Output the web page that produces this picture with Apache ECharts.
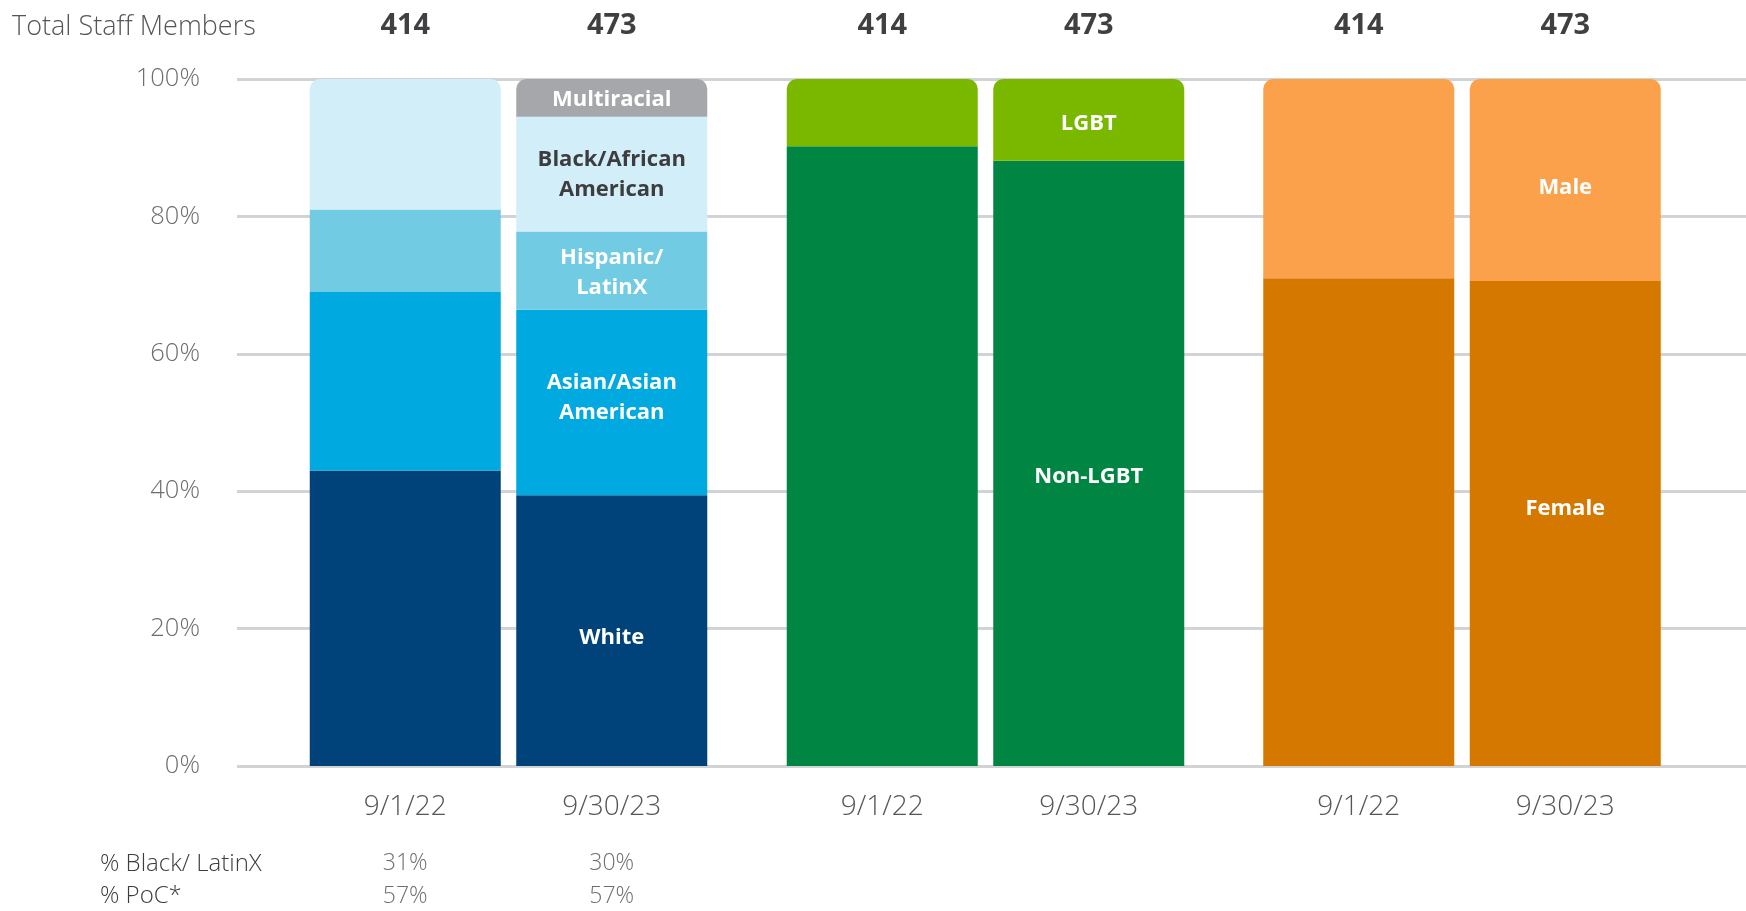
<!DOCTYPE html>
<html><head><meta charset="utf-8">
<script src="https://cdn.jsdelivr.net/npm/echarts@6/dist/echarts.min.js"></script>
<style>html,body{margin:0;padding:0;background:#fff}#c{width:1746px;height:911px}</style>
</head><body><div id="c"></div>
<script>
// ---- data ----
const dates = ['9/1/22', '9/30/23'];
const totals = ['414', '473'];
const pctBlackLatinX = ['31%', '30%'];
const pctPoC = ['57%', '57%'];

const raceNames = ['White', 'Asian/Asian American', 'Hispanic/LatinX', 'Black/African American', 'Multiracial'];
const raceLabels = ['White', 'Asian/Asian\nAmerican', 'Hispanic/\nLatinX', 'Black/African\nAmerican', 'Multiracial'];
const white = [43.0, 39.4];
const asian = [26.0, 27.0];
const hispanic = [12.0, 11.4];
const black = [19.0, 16.7];
const multiracial = [0, 5.5];

const lgbtNames = ['Non-LGBT', 'LGBT'];
const nonLgbt = [90.2, 88.1];
const lgbt = [9.8, 11.9];

const genderNames = ['Female', 'Male'];
const female = [71.0, 70.6];
const male = [29.0, 29.4];

// ---- layout / style ----
const TOP = 79, BOTTOM = 911 - 766;
const FONT = 'Open Sans';
const lightGray = '#55565a';

function stackSeries(xIdx, yIdx, stack, names, labels, values, colors, labelColors, labelOffsets) {
  return values.map((vals, si) => ({
    name: names[si], type: 'bar', stack: stack,
    xAxisIndex: xIdx, yAxisIndex: yIdx, barWidth: 191,
    itemStyle: { color: colors[si] },
    label: {
      show: true, position: 'inside', formatter: labels[si],
      color: labelColors[si], fontFamily: FONT, fontWeight: 'bold',
      fontSize: 22, lineHeight: 30, offset: [0, labelOffsets[si]]
    },
    data: vals.map((v, ci) => {
      let topIdx = 0;
      values.forEach((arr, k) => { if (arr[ci] > 0) topIdx = k; });
      return {
        value: v,
        label: { show: ci === 1 },
        itemStyle: { borderRadius: si === topIdx ? [10, 10, 0, 0] : 0 }
      };
    })
  }));
}

const groupLefts = [302, 779, 1255.5];
const groupWidth = 413;

const grids = [{ left: 237, right: 0, top: TOP, bottom: BOTTOM }]
  .concat(groupLefts.map(l => ({ left: l, width: groupWidth, top: TOP, bottom: BOTTOM })));

const hiddenAxisLine = { show: false };
const dateAxis = g => ({
  gridIndex: g, type: 'category', data: dates, position: 'bottom',
  axisLine: hiddenAxisLine, axisTick: { show: false },
  axisLabel: { color: lightGray, fontFamily: FONT, fontWeight: 300, fontSize: 28, margin: 27 }
});
const totalAxis = g => ({
  gridIndex: g, type: 'category', data: totals, position: 'top',
  axisLine: hiddenAxisLine, axisTick: { show: false },
  axisLabel: { color: '#404042', fontFamily: FONT, fontWeight: 'bold', fontSize: 29, margin: 39 }
});
const rowAxis = (g, data, off) => ({
  gridIndex: g, type: 'category', data: data, position: 'bottom', offset: off,
  axisLine: hiddenAxisLine, axisTick: { show: false },
  axisLabel: { color: '#6d6e71', fontFamily: FONT, fontWeight: 300, fontSize: 23, margin: 28 }
});

const xAxes = [
  { gridIndex: 0, type: 'category', data: [''], show: false },   // 0
  dateAxis(1),                                                   // 1
  totalAxis(1),                                                  // 2
  rowAxis(1, pctBlackLatinX, 58),                                // 3
  rowAxis(1, pctPoC, 91),                                        // 4
  dateAxis(2),                                                   // 5
  totalAxis(2),                                                  // 6
  dateAxis(3),                                                   // 7
  totalAxis(3)                                                   // 8
];

const yAxes = [{
  gridIndex: 0, type: 'value', min: 0, max: 100, interval: 20,
  axisLine: { show: false }, axisTick: { show: false },
  axisLabel: { formatter: '{value}%', color: '#6d6e71', fontFamily: FONT, fontWeight: 300, fontSize: 25.5, margin: 37 },
  splitLine: { show: true, lineStyle: { color: '#d1d3d4', width: 3 } }
}].concat([1, 2, 3].map(g => ({
  gridIndex: g, type: 'value', min: 0, max: 100, show: false, splitLine: { show: false }
})));

const series = []
  .concat(stackSeries(1, 1, 'race', raceNames, raceLabels,
    [white, asian, hispanic, black, multiracial],
    ['#00427a', '#00a9e0', '#71cbe3', '#d2eef8', '#a6a7aa'],
    ['#ffffff', '#ffffff', '#ffffff', '#3d3d3f', '#ffffff'],
    [7, -5, 2, 1, 2]))
  .concat(stackSeries(5, 2, 'lgbt', lgbtNames, lgbtNames,
    [nonLgbt, lgbt], ['#008542', '#7ab800'], ['#ffffff', '#ffffff'], [13, 4]))
  .concat(stackSeries(7, 3, 'gender', genderNames, genderNames,
    [female, male], ['#d57800', '#fba14b'], ['#ffffff', '#ffffff'], [-15, 8]));

const chart = echarts.init(document.getElementById('c'), null, { renderer: 'canvas' });
chart.setOption({
  animation: false,
  backgroundColor: '#ffffff',
  grid: grids,
  xAxis: xAxes,
  yAxis: yAxes,
  series: series,
  graphic: [
    { type: 'text', x: 12, y: 27, style: { text: 'Total Staff Members', fill: lightGray, font: '300 27px "Open Sans"', verticalAlign: 'middle' } },
    { type: 'text', x: 100, y: 864, style: { text: '% Black/ LatinX', fill: '#3d3d3f', font: '300 24px "Open Sans"', verticalAlign: 'middle' } },
    { type: 'text', x: 100, y: 896, style: { text: '% PoC*', fill: '#3d3d3f', font: '300 24px "Open Sans"', verticalAlign: 'middle' } }
  ]
});
</script>
</body></html>
